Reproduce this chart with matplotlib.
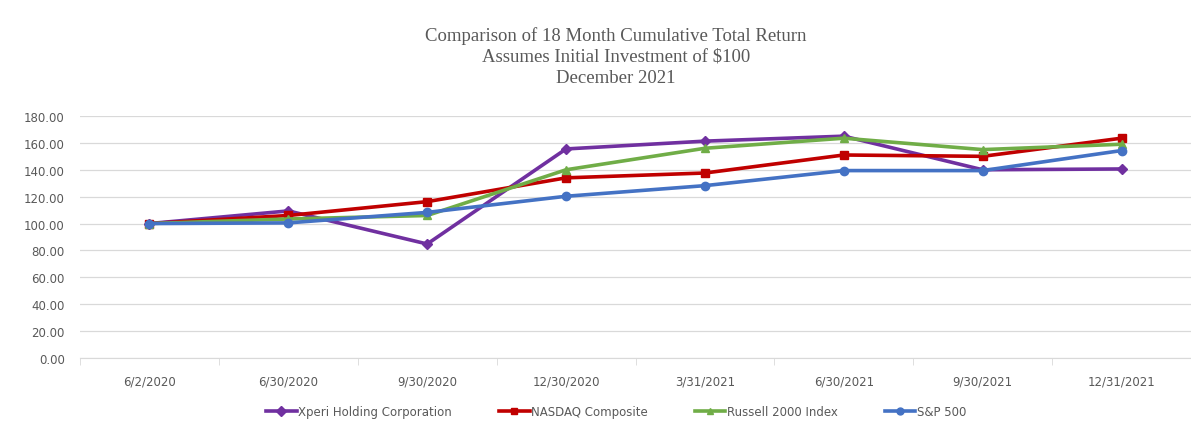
import matplotlib.pyplot as plt
from matplotlib.lines import Line2D
import numpy as np

dates = ['6/2/2020', '6/30/2020', '9/30/2020', '12/30/2020',
         '3/31/2021', '6/30/2021', '9/30/2021', '12/31/2021']
xperi = [100.0, 109.4, 84.8, 155.5, 161.3, 165.0, 140.0, 140.6]
nasdaq = [100.0, 106.0, 116.3, 134.0, 137.6, 151.0, 150.0, 163.5]
russell = [100.0, 103.4, 106.0, 140.0, 156.0, 163.5, 155.0, 159.0]
sp500 = [100.0, 100.5, 108.3, 120.3, 128.2, 139.4, 139.4, 154.3]
series_names = ['Xperi Holding Corporation', 'NASDAQ Composite',
                'Russell 2000 Index', 'S&P 500']

W, H = 1191, 427
fig = plt.figure(figsize=(W / 100, H / 100), dpi=100)
ax = fig.add_axes([80 / W, 68 / H, (W - 80) / W, 242 / H])

x = np.arange(len(dates))
styles = [
    (xperi, '#7030A0', 'D', 5),
    (nasdaq, '#C00000', 's', 6),
    (russell, '#70AD47', '^', 6),
    (sp500, '#4472C4', 'o', 6),
]
handles = []
for (vals, col, mk, ms), name in zip(styles, series_names):
    ax.plot(x, vals, color=col, lw=2.6, marker=mk, ms=ms, zorder=3)
    handles.append(Line2D([], [], color=col, lw=2.6, marker=mk, ms=5, label=name))

# plot extends past the right edge of the picture
ax.set_xlim(-0.5, 7.5 - 12 / 140.4)
ax.set_ylim(0, 180)
ax.set_yticks(np.arange(0, 181, 20))
ax.set_yticklabels([f'{v:.2f}' for v in range(0, 181, 20)])
ax.set_xticks(x)
ax.set_xticklabels(dates)
ax.set_xticks(np.arange(-0.5, 8, 1), minor=True)
ax.tick_params(axis='x', which='major', length=0, pad=12)
ax.tick_params(axis='x', which='minor', length=5, color='#D9D9D9')
ax.tick_params(axis='y', length=0, pad=11)
ax.tick_params(labelsize=8.5, labelcolor='#595959')
ax.grid(axis='y', color='#D9D9D9', lw=0.9)
ax.set_axisbelow(True)
for s in ['top', 'right', 'left']:
    ax.spines[s].set_visible(False)
ax.spines['bottom'].set_color('#D9D9D9')

title = ('Comparison of 18 Month Cumulative Total Return\n'
         'Assumes Initial Investment of $100\nDecember 2021')
fig.text(616 / W, 1 - 27 / H, title, ha='center', va='top',
         family='Liberation Serif', fontsize=13.5, color='#595959',
         linespacing=1.3)

fig.legend(handles=handles, loc='center', bbox_to_anchor=(616 / W, 1 - 413 / H),
           ncol=4, frameon=False, fontsize=8.5, handlelength=2.6,
           columnspacing=4, handletextpad=0.1, labelcolor='#595959')

fig.savefig('out.png', dpi=100)
